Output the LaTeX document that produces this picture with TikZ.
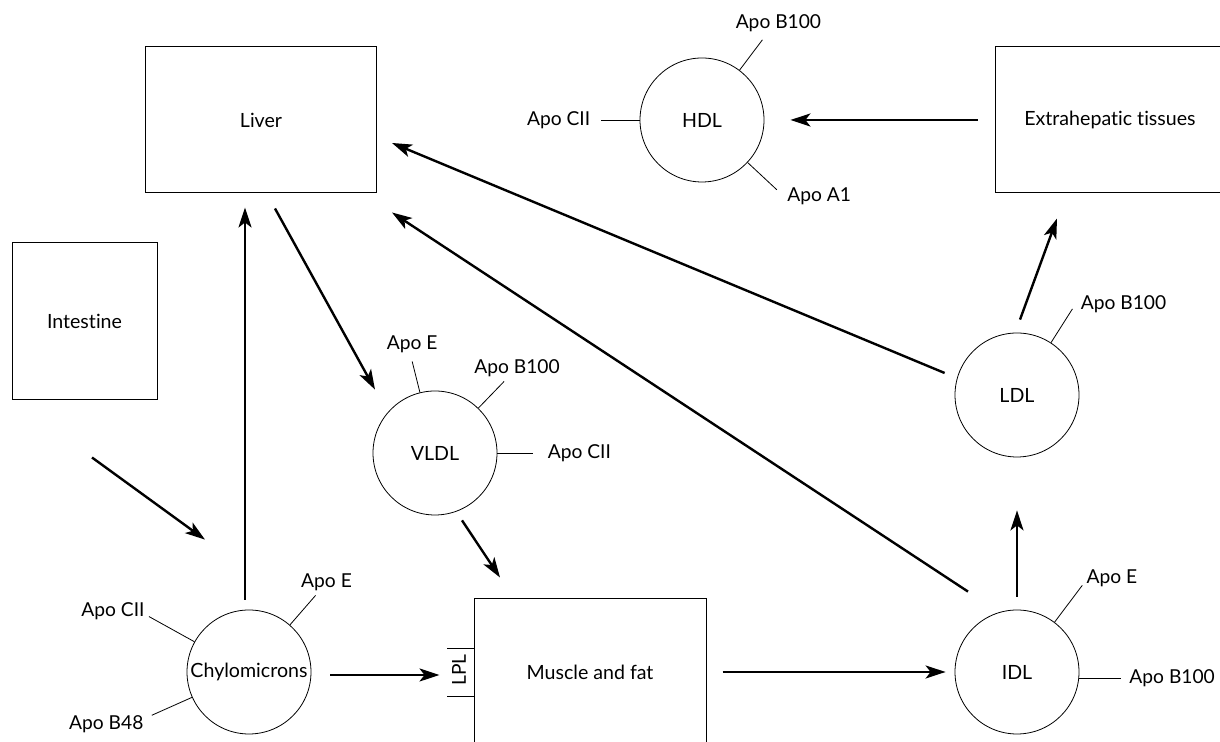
\documentclass[tikz,border=0pt]{standalone}
\usepackage{fontspec}
\setmainfont{Lato}[Ligatures=NoCommon]
\usetikzlibrary{arrows.meta, positioning, calc}

\begin{document}
\begin{tikzpicture}[x=0.5pt, y=0.5pt,
  organ/.style={draw, line width=0.5pt, minimum width=115.5pt, minimum height=73pt,
               font=\fontsize{9.8}{12}\selectfont},
  particle/.style={draw, circle, line width=0.4pt, minimum size=62pt, inner sep=0pt,
               font=\fontsize{9.8}{12}\selectfont},
  arr/.style={-{Stealth[length=10pt, width=6.5pt, inset=2.5pt]}, line width=1.2pt},
  apo/.style={line width=0.4pt},
  apolabel/.style={inner sep=2pt, font=\fontsize{9.6}{12}\selectfont}
]
  \useasboundingbox (0,0) rectangle (1220,742);

  % organs
  \node[organ] (liver) at (261,622) {Liver};
  \node[organ, minimum width=115pt] (extra) at (1110,622) {Extrahepatic tissues};
  \node[organ, minimum width=72.5pt, minimum height=78.5pt] (intestine) at (84.5,420.5) {Intestine};
  \node[organ, minimum width=116pt] (muscle) at (590,70) {Muscle and fat};

  % lipoproteins
  \node[particle] (hdl) at (702,622) {HDL};
  \node[particle] (vldl) at (435,289) {VLDL};
  \node[particle] (chylo) at (249,70) {Chylomicrons};
  \node[particle] (idl) at (1017,70) {IDL};
  \node[particle] (ldl) at (1017,347) {LDL};

  % LPL on the muscle side
  \node[apolabel, rotate=90] (lpl) at (459,72) {LPL};
  \draw[apo] ([shift={(0,24)}]muscle.west) -- ++(-27,0);
  \draw[apo] ([shift={(0,-24)}]muscle.west) -- ++(-27,0);

  % apolipoproteins
  \draw[apo] (hdl.53) -- ++(53:38) node[apolabel, anchor=south, xshift=8pt, yshift=2pt] {Apo B100};
  \draw[apo] (hdl.180) -- ++(180:39) node[apolabel, anchor=east, xshift=-3pt] {Apo CII};
  \draw[apo] (hdl.-43) -- ++(-43:40) node[apolabel, anchor=west, xshift=3pt, yshift=-3pt] {Apo A1};

  \draw[apo] (vldl.104) -- ++(104:32) node[apolabel, anchor=south, yshift=2pt] {Apo E};
  \draw[apo] (vldl.46) -- ++(46:37) node[apolabel, anchor=south, xshift=6.5pt] {Apo B100};
  \draw[apo] (vldl.0) -- ++(0:36) node[apolabel, anchor=west, xshift=5pt] {Apo CII};

  \draw[apo] (chylo.151) -- ++(151:52) node[apolabel, anchor=east, yshift=2.5pt] {Apo CII};
  \draw[apo] (chylo.49) -- ++(49:39) node[apolabel, anchor=south, xshift=5.5pt] {Apo E};
  \draw[apo] (chylo.204) -- ++(204:44) node[apolabel, anchor=east, xshift=-2pt, yshift=-4.5pt] {Apo B48};

  \draw[apo] (idl.53) -- ++(53:46) node[apolabel, anchor=south west, yshift=-3pt] {Apo E};
  \draw[apo] (idl.-6.5) -- ++(0:42) node[apolabel, anchor=west, xshift=2pt] {Apo B100};

  \draw[apo] (ldl.57.6) -- ++(57.6:40) node[apolabel, anchor=west, xshift=2pt, yshift=2.5pt] {Apo B100};

  % flows
  \draw[arr] ([shift={(7.5,-57)}]intestine.south) -- ([shift={(-44,70)}]chylo.north);
  \draw[arr] ([shift={(-4,10)}]chylo.north) -- ([shift={(-16,-14)}]liver.south);
  \draw[arr] ([shift={(14,-15)}]liver.south) -- ([shift={(-60,1)}]vldl.north);
  \draw[arr] ([shift={(27,-5)}]vldl.south) -- ([shift={(-90,21)}]muscle.north);
  \draw[arr] ([shift={(19,-3)}]chylo.east) -- ([shift={(-34,-3)}]muscle.west);
  \draw[arr] ([shift={(16,0)}]muscle.east) -- ([shift={(-9,0)}]idl.west);
  \draw[arr] ([shift={(0,13)}]idl.north) -- ([shift={(0,-53)}]ldl.south);
  \draw[arr] ([shift={(3,13)}]ldl.north) -- ([shift={(-53,-25)}]extra.south);
  \draw[arr] ([shift={(-17,0)}]extra.west) -- ([shift={(26,0)}]hdl.east);
  \draw[arr] ([shift={(-10,22)}]ldl.west) -- ([shift={(15,-23)}]liver.east);
  \draw[arr] ([shift={(-49,18)}]idl.north) -- ([shift={(15,-19)}]liver.south east);
\end{tikzpicture}
\end{document}
